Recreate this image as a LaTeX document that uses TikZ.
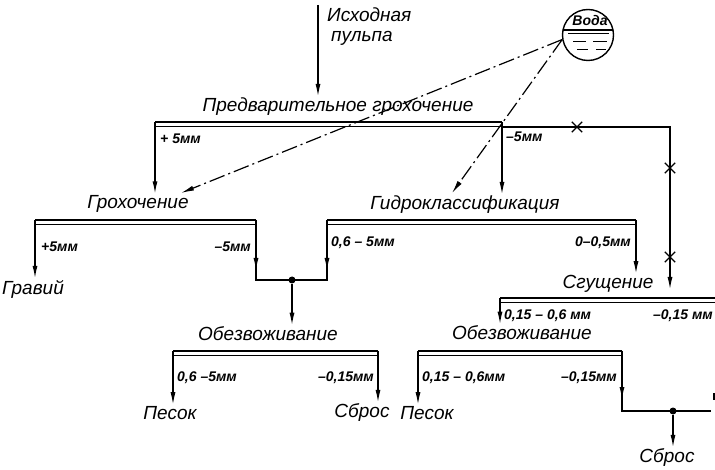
\documentclass[tikz,border=0pt]{standalone}
\usepackage{fontspec}
\setmainfont{Liberation Sans}
\usetikzlibrary{arrows.meta,shapes.misc,calc}

% screen: thick deck line with a thin line under it
\newcommand{\screenbar}[2]{%
  \draw[line width=2.6pt] (#1) -- (#2);
  \draw[line width=0.7pt] ($(#1)+(0,4.8)$) -- ($(#2)+(0,4.8)$);}

\begin{document}
\begin{tikzpicture}[x=1pt, y=-1pt,
    lbl/.style={font=\fontsize{19}{20}\selectfont\itshape, inner sep=1pt},
    size/.style={font=\fontsize{14}{16}\selectfont\bfseries\itshape, inner sep=1pt},
    pipe/.style={line width=1.5pt},
    flow/.style={-{Latex[length=13pt,width=5pt]}, line width=1.5pt},
    water/.style={-{Latex[length=13pt,width=5pt]}, line width=1.2pt,
                  dash pattern=on 16pt off 4pt on 2pt off 4pt},
    xmark/.style={cross out, draw, line width=1.4pt, minimum size=9pt, inner sep=0pt},
    joint/.style={circle, fill, inner sep=0pt, minimum size=7pt}
]
\useasboundingbox (0,0) rectangle (715,470);

% feed and water
\coordinate (src) at (318,5);
\node[lbl, anchor=west, align=left] (ish) at (326,27) {Исходная\\\hspace*{4pt}пульпа};
\node[circle, draw, line width=1.4pt, minimum size=51pt, inner sep=0pt] (voda) at (588,35) {};
\node[font=\fontsize{14}{16}\selectfont\bfseries\itshape, inner sep=0pt] (vodatxt) at (590,20) {Вода};
\draw[line width=2.4pt] ($(voda.center)+(-25,-5)$) -- ($(voda.center)+(25,-5)$);
\draw[line width=0.7pt] ($(voda.center)+(-20,-1.2)$) -- ($(voda.center)+(21,-1.2)$);
\draw[line width=0.9pt] ($(voda.center)+(-15,6)$) -- ($(voda.center)+(-2,6)$)
                        ($(voda.center)+(5,6)$) -- ($(voda.center)+(19,6)$);
\draw[line width=0.9pt] ($(voda.center)+(-11,14)$) -- ($(voda.center)+(0,14)$)
                        ($(voda.center)+(8,14)$) -- ($(voda.center)+(18,14)$);

% process labels
\node[lbl] (pre) at (338,107) {Предварительное грохочение};
\node[lbl] (groh) at (138,204) {Грохочение};
\node[lbl] (gidro) at (465,205) {Гидроклассификация};
\node[lbl] (sgush) at (608,284) {Сгущение};
\node[lbl] (obez1) at (268,334) {Обезвоживание};
\node[lbl] (obez2) at (522,333) {Обезвоживание};
\node[lbl] (grav) at (33,289) {Гравий};
\node[lbl] (pesok1) at (170,413) {Песок};
\node[lbl] (sbros1) at (362,413) {Сброс};
\node[lbl] (pesok2) at (427,413) {Песок};
\node[lbl] (sbros2) at (667,458) {Сброс};

% screen decks
\coordinate (b1l) at (155,122); \coordinate (b1r) at (502,122);
\coordinate (b2l) at (35,220);  \coordinate (b2r) at (256,220);
\coordinate (b3l) at (327,220); \coordinate (b3r) at (636,220);
\coordinate (b4l) at (500,298); \coordinate (b4r) at (715,298);
\coordinate (b5l) at (173,351); \coordinate (b5r) at (378,351);
\coordinate (b6l) at (418,351); \coordinate (b6r) at (622,351);
\screenbar{b1l}{b1r}
\screenbar{b2l}{b2r}
\screenbar{b3l}{b3r}
\screenbar{b4l}{b4r}
\screenbar{b5l}{b5r}
\screenbar{b6l}{b6r}

% size classes
\node[size, anchor=west] (s1a) at (159,139) {+ 5мм};
\node[size, anchor=west] (s1b) at (505,137) {--5мм};
\node[size, anchor=west] (s2a) at (40,247) {+5мм};
\node[size, anchor=east] (s2b) at (252,247) {--5мм};
\node[size, anchor=west] (s3a) at (330,243) {0,6 -- 5мм};
\node[size, anchor=east] (s3b) at (632,243) {0--0,5мм};
\node[size, anchor=west] (s4a) at (503,316) {0,15 -- 0,6 мм};
\node[size, anchor=east] (s4b) at (714,316) {--0,15 мм};
\node[size, anchor=west] (s5a) at (176,378) {0,6 --5мм};
\node[size, anchor=east] (s5b) at (375,378) {--0,15мм};
\node[size, anchor=west] (s6a) at (421,378) {0,15 -- 0,6мм};
\node[size, anchor=east] (s6b) at (618,378) {--0,15мм};

% main flows
\draw[flow] (src) -- (src |- pre.north);
\draw[flow] (b1l) -- (b1l |- groh.north);
\draw[flow] (b1r) -- (b1r |- gidro.north);
\draw[flow] (b2l) -- (b2l |- grav.north);
\draw[flow] (b3r) -- (b3r |- sgush.north);
\draw[flow] (b4l) -- (b4l |- obez2.north);
\draw[flow] (b5l) -- (b5l |- pesok1.north);
\draw[flow] (b5r) -- (b5r |- sbros1.north);
\draw[flow] (b6l) -- (b6l |- pesok2.north);

% bypass of -5 mm to thickening
\coordinate (t1) at (502,127);
\coordinate (t2) at (670,127);
\coordinate (t3) at (670,290);
\draw[flow] (t1) -- (t2) -- (t3);
\node[xmark, fill=white] (x1) at (577,127) {};
\node[xmark, fill=white] (x2) at (670,168) {};
\node[xmark, fill=white] (x3) at (670,257) {};

% join of -5 mm and 0,6-5 mm
\coordinate (c1) at (256,280);
\coordinate (c2) at (327,280);
\draw[pipe] (b2r) -- (c1) -- (c2) -- (b3l);
\draw[flow] (b2r) -- ($(c1)+(0,-9)$);
\draw[flow] (b3l) -- ($(c2)+(0,-9)$);
\node[joint] (j1) at (292,280) {};
\draw[flow] (j1) -- (j1 |- obez1.north);

% join of the two -0,15 mm flows
\coordinate (c3) at (622,411);
\coordinate (c4) at (711,411);
\coordinate (c5) at (714,393);
\draw[pipe] (b6r) -- (c3) -- (c4);
\draw[flow] (b6r) -- ($(c3)+(0,-11)$);
\draw[pipe] (c5) -- ++(0,7);
\node[joint] (j2) at (673,411) {};
\draw[flow] (j2) -- (j2 |- sbros2.north);

% water supply
\coordinate (w1) at (181,193);
\coordinate (w2) at (452,193);
\draw[water] (voda.190) -- (w1);
\draw[water] (voda.190) -- (w2);

\end{tikzpicture}
\end{document}
